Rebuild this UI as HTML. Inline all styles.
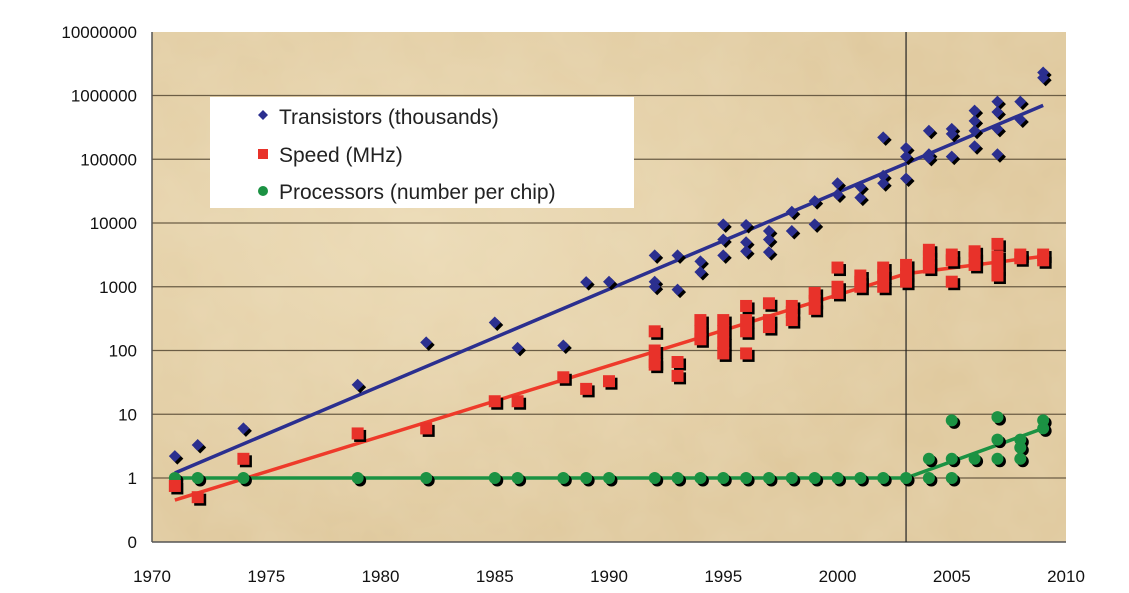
<!DOCTYPE html>
<html><head><meta charset="utf-8"><style>
body{margin:0;background:#fff;width:1129px;height:588px;overflow:hidden;font-family:"Liberation Sans",sans-serif}
svg text{font-family:"Liberation Sans",sans-serif}
</style></head><body>
<svg id="chart" width="1129" height="588" viewBox="0 0 1129 588" xmlns="http://www.w3.org/2000/svg">
<defs>
<radialGradient id="g1" cx="30%" cy="40%" r="60%"><stop offset="0" stop-color="#ecdbb6"/><stop offset="1" stop-color="#dfc89c"/></radialGradient>
<filter id="noise" x="0" y="0" width="100%" height="100%"><feTurbulence type="fractalNoise" baseFrequency="0.02" numOctaves="3" seed="3"/><feColorMatrix values="0 0 0 0 0.85  0 0 0 0 0.75  0 0 0 0 0.55  0 0 0 0.35 0"/></filter>
<clipPath id="pc"><rect x="152" y="32" width="914" height="510"/></clipPath>
</defs>
<rect x="152" y="32" width="914" height="510" fill="url(#g1)"/>
<g clip-path="url(#pc)"><rect x="152" y="32" width="914" height="510" filter="url(#noise)"/></g>
<g id="grid"></g><g id="axes"></g><g id="lines"></g><g id="marks"></g>
<g>
<rect x="210" y="97" width="424" height="111" fill="#fff"/>
<path d="M263 110 l5 5 -5 5 -5 -5z" fill="#2b2f8f"/>
<text x="279" y="124" font-size="21" fill="#222">Transistors (thousands)</text>
<rect x="258" y="149" width="10" height="10" fill="#e8322a"/>
<text x="279" y="162" font-size="21" fill="#222">Speed (MHz)</text>
<circle cx="263" cy="191" r="5" fill="#1b9243"/>
<text x="279" y="199" font-size="21" fill="#222">Processors (number per chip)</text>
</g>
</svg>
<script>
const yTicks=[10000000,1000000,100000,10000,1000,100,10,1,0.1];
const yTickLabels=["10000000","1000000","100000","10000","1000","100","10","1","0"];
const xTicks=[1970,1975,1980,1985,1990,1995,2000,2005,2010];
const trYears=[1971,1972,1974,1979,1982,1985,1986,1988,1989,1990,1992,1992,1992,1993,1993,1994,1994,1995,1995,1995,1996,1996,1996,1997,1997,1997,1998,1998,1999,1999,2000,2000,2001,2001,2002,2002,2002,2003,2003,2003,2004,2004,2004,2005,2005,2005,2006,2006,2006,2006,2007,2007,2007,2007,2008,2008,2009,2009];
const trValues=[2.2,3.3,6,29,134,275,110,120,1180,1200,3100,1200,1000,3100,900,2500,1700,9500,5500,3100,9300,5000,3600,7500,5500,3500,7500,15000,9500,22000,42000,28000,25000,37000,220000,55000,42000,150000,110000,50000,280000,120000,105000,300000,250000,110000,580000,400000,280000,160000,800000,550000,300000,120000,800000,420000,2300000,1900000];
const spYears=[1971,1972,1974,1979,1982,1985,1986,1988,1989,1990,1992,1992,1992,1992,1993,1993,1994,1994,1994,1995,1995,1995,1995,1996,1996,1996,1996,1997,1997,1997,1998,1998,1998,1999,1999,1999,2000,2000,2000,2001,2001,2001,2002,2002,2002,2003,2003,2003,2004,2004,2004,2004,2005,2005,2005,2006,2006,2006,2007,2007,2007,2007,2008,2008,2009,2009];
const spValues=[0.75,0.5,2,5,6,16,16,38,25,33,200,100,66,60,66,40,300,200,150,300,200,133,90,500,300,200,90,550,300,233,500,400,300,800,600,450,2000,1000,800,1500,1200,1000,2000,1500,1000,2200,1600,1200,3800,3000,2400,2000,3200,2600,1200,3600,2800,2200,4700,3000,2000,1500,3200,2800,3200,2600];
const prYears=[1971,1972,1974,1979,1982,1985,1986,1988,1989,1990,1992,1993,1994,1995,1996,1997,1998,1999,2000,2001,2002,2003,2004,2004,2005,2005,2005,2006,2007,2007,2007,2008,2008,2008,2009,2009];
const prValues=[1,1,1,1,1,1,1,1,1,1,1,1,1,1,1,1,1,1,1,1,1,1,2,1,8,2,1,2,9,4,2,4,3,2,8,6];
const trTrendYears=[1971,2009], trTrendValues=[1.2,700000];
const spTrendYears=[1971,2003,2009], spTrendValues=[0.45,1600,3000];
const prTrendYears=[1971,2003,2009], prTrendValues=[1,1,6];
const X0=152,X1=1066,Y1=542,DEC=63.75;
const xs=y=>X0+(y-1970)*(X1-X0)/40;
const ys=v=>478-DEC*Math.log10(v);
const NS="http://www.w3.org/2000/svg";
function mk(tag,attrs,parent){const e=document.createElementNS(NS,tag);for(const k in attrs)e.setAttribute(k,attrs[k]);document.getElementById(parent).appendChild(e);return e;}
yTicks.forEach((v,i)=>{
 if(i>0&&i<yTicks.length-1){const g=mk('line',{x1:X0,x2:X1,y1:ys(v),y2:ys(v),stroke:'#6b5d45','stroke-width':1.3},'grid');
 
 }
 const t=mk('text',{x:137,y:ys(v)+6,'text-anchor':'end','font-size':17,fill:'#111'},'axes');t.textContent=yTickLabels[i];
 
 
});
xTicks.forEach(v=>{const t=mk('text',{x:xs(v),y:582,'text-anchor':'middle','font-size':17,fill:'#111'},'axes');t.textContent=v;
 
 });
let a=mk('line',{x1:X0,x2:X0,y1:32,y2:Y1,stroke:'#555','stroke-width':1.5},'axes');


a=mk('line',{x1:X0,x2:X1,y1:Y1,y2:Y1,stroke:'#555','stroke-width':1.5},'axes');


a=mk('line',{x1:xs(2003),x2:xs(2003),y1:32,y2:Y1,stroke:'#222','stroke-width':1.2},'axes');


function trend(ys_,vs,col,name){const p=ys_.map((y,i)=>xs(y)+','+ys(vs[i])).join(' ');
 const l=mk('polyline',{points:p,fill:'none',stroke:col,'stroke-width':3.5},'lines');
 
 }
trend(trTrendYears,trTrendValues,'#2b2f8f','transistors-trend-line');
trend(spTrendYears,spTrendValues,'#ee3a2a','speed-trend-line');
trend(prTrendYears,prTrendValues,'#1b9243','processors-trend-line');
function pts(yrs,vals,kind,col,name){yrs.forEach((y,i)=>{const cx=xs(y),cy=ys(vals[i]);
 [[2.5,'#000'],[0,col]].forEach(([o,c])=>{let e;
  if(kind==='d')e=mk('path',{d:`M${cx+o} ${cy+o-6} l6 6 -6 6 -6 -6z`,fill:c},'marks');
  else if(kind==='s')e=mk('rect',{x:cx+o-6,y:cy+o-6,width:12,height:12,fill:c},'marks');
  else e=mk('circle',{cx:cx+o,cy:cy+o,r:6,fill:c},'marks');
  
  });});}
pts(prYears,prValues,'c','#1b9243','processors-point');
pts(spYears,spValues,'s','#e8322a','speed-point');
pts(trYears,trValues,'d','#2b2f8f','transistors-point');
</script>
</body></html>
